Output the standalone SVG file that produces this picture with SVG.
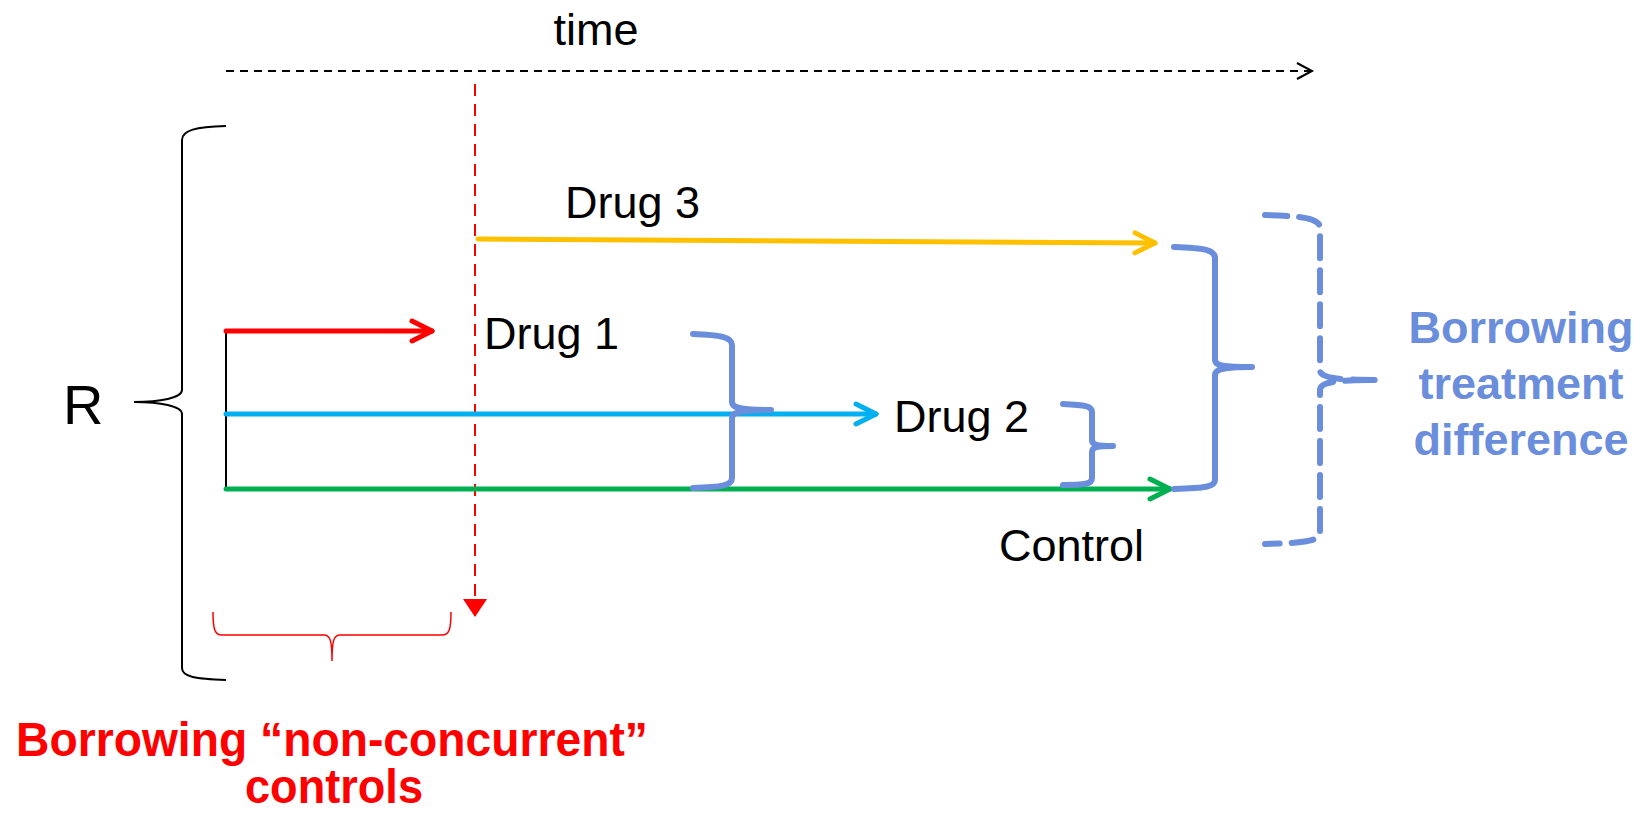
<svg xmlns="http://www.w3.org/2000/svg" width="1646" height="814" viewBox="0 0 1646 814">
<style>
.lbl{font-family:"Liberation Sans",Arial,sans-serif;font-size:45px;fill:#000}
.rtxt{font-family:"Liberation Sans Narrow","Liberation Sans",Arial,sans-serif;font-weight:bold;font-size:49px;fill:#FF0000}
.btxt{font-family:"Liberation Sans",Arial,sans-serif;font-weight:bold;font-size:45px;fill:#6A8EDB;text-anchor:middle}
.brace{fill:none;stroke:#6A8EDB;stroke-width:6;stroke-linecap:round;stroke-linejoin:round}
.arr{fill:none;stroke-width:5;stroke-linecap:round}
</style>
<defs>
<marker id="hRed" markerUnits="userSpaceOnUse" markerWidth="30" markerHeight="30" viewBox="-25 -15 30 30" refX="0" refY="0" orient="auto" overflow="visible"><path d="M-20 -10 L0 0 L-20 10" fill="none" stroke="#FF0000" stroke-width="5" stroke-linecap="round" stroke-linejoin="round"/></marker>
<marker id="hBlue" markerUnits="userSpaceOnUse" markerWidth="30" markerHeight="30" viewBox="-25 -15 30 30" refX="0" refY="0" orient="auto" overflow="visible"><path d="M-20 -10 L0 0 L-20 10" fill="none" stroke="#00B0F0" stroke-width="5" stroke-linecap="round" stroke-linejoin="round"/></marker>
<marker id="hGreen" markerUnits="userSpaceOnUse" markerWidth="30" markerHeight="30" viewBox="-25 -15 30 30" refX="0" refY="0" orient="auto" overflow="visible"><path d="M-20 -10 L0 0 L-20 10" fill="none" stroke="#00B050" stroke-width="5" stroke-linecap="round" stroke-linejoin="round"/></marker>
<marker id="hYellow" markerUnits="userSpaceOnUse" markerWidth="30" markerHeight="30" viewBox="-25 -15 30 30" refX="0" refY="0" orient="auto" overflow="visible"><path d="M-20 -10 L0 0 L-20 10" fill="none" stroke="#FFC000" stroke-width="5" stroke-linecap="round" stroke-linejoin="round"/></marker>
<marker id="hTime" markerUnits="userSpaceOnUse" markerWidth="20" markerHeight="20" viewBox="-18 -10 20 20" refX="0" refY="0" orient="auto" overflow="visible"><path d="M-15 -8 L0 0 L-15 8" fill="none" stroke="#000" stroke-width="2"/></marker>
<marker id="hDown" markerUnits="userSpaceOnUse" markerWidth="24" markerHeight="28" viewBox="-20 -14 24 28" refX="0" refY="0" orient="auto" overflow="visible"><path d="M-18 -12 L0 0 L-18 12 Z" fill="#FF0000"/></marker>
</defs>

<g id="time-axis">
<text class="lbl" x="596" y="45" text-anchor="middle">time</text>
<line x1="226" y1="71" x2="1312" y2="71" stroke="#000" stroke-width="2" stroke-dasharray="8 6" marker-end="url(#hTime)"/>
</g>

<g id="cutoff">
<line x1="475" y1="84" x2="475" y2="617" stroke="#FF0000" stroke-width="2" stroke-dasharray="12 8" marker-end="url(#hDown)"/>
</g>

<g id="R-brace">
<path d="M226 126 C196 127 182 130 182 140 L182 390 C182 398 160 402 134 402 C160 402 182 406 182 414 L182 668 C182 677 196 679 226 680" fill="none" stroke="#000" stroke-width="2"/>
<text class="lbl" x="63" y="424" style="font-size:56px">R</text>
</g>

<g id="connectors">
<line x1="226" y1="331" x2="226" y2="489" stroke="#000" stroke-width="2"/>
<line class="arr" x1="226" y1="331" x2="432" y2="331" stroke="#FF0000" marker-end="url(#hRed)"/>
<line class="arr" x1="226" y1="414" x2="876" y2="414" stroke="#00B0F0" marker-end="url(#hBlue)"/>
<line class="arr" x1="226" y1="489" x2="1170" y2="489" stroke="#00B050" marker-end="url(#hGreen)"/>
<line class="arr" x1="478" y1="239" x2="1155" y2="243" stroke="#FFC000" marker-end="url(#hYellow)"/>
</g>

<g id="drug3"><text class="lbl" x="565" y="218">Drug 3</text></g>
<g id="drug1"><text class="lbl" x="484" y="349">Drug 1</text></g>
<g id="drug2"><text class="lbl" x="894" y="432">Drug 2</text></g>
<g id="control"><text class="lbl" x="999" y="561">Control</text></g>

<g id="brace-d1">
<path class="brace" d="M693 334 C720 335 732 337 732 345 L732 402 C732 408 740 410 771 410 C740 410 732 412 732 418 L732 478 C732 486 720 487 693 488"/>
</g>
<g id="brace-d2">
<path class="brace" d="M1063 404 C1085 405 1092 406 1092 412 L1092 440 C1092 445 1097 446 1113 446 C1097 446 1092 447 1092 452 L1092 478 C1092 484 1085 485 1063 485"/>
</g>
<g id="brace-d3">
<path class="brace" d="M1174 247 C1205 248 1215 250 1215 258 L1215 360 C1215 366 1224 367 1252 367 C1224 367 1215 369 1215 375 L1215 480 C1215 487 1205 488 1174 489"/>
</g>
<g id="brace-all">
<path class="brace" stroke-dasharray="22 12" d="M1265 215 C1305 216 1320 219 1320 228 L1320 370 C1320 377 1330 380 1377 380 C1330 380 1320 383 1320 390 L1320 533 C1320 541 1305 543 1265 544"/>
</g>
<g id="treatment-label">
<text class="btxt"><tspan x="1521" y="343">Borrowing</tspan><tspan x="1521" y="399">treatment</tspan><tspan x="1521" y="455">difference</tspan></text>
</g>

<g id="nonconcurrent">
<path d="M213 612 C213 630 215 635 222 635 L324 635 C330 635 332 640 332 661 C332 640 334 635 340 635 L442 635 C449 635 451 630 451 612" fill="none" stroke="#FF0000" stroke-width="1.5"/>
<text class="rtxt"><tspan x="16" y="756" textLength="632" lengthAdjust="spacingAndGlyphs">Borrowing “non-concurrent”</tspan><tspan x="245" y="803" textLength="178" lengthAdjust="spacingAndGlyphs">controls</tspan></text>
</g>
</svg>
